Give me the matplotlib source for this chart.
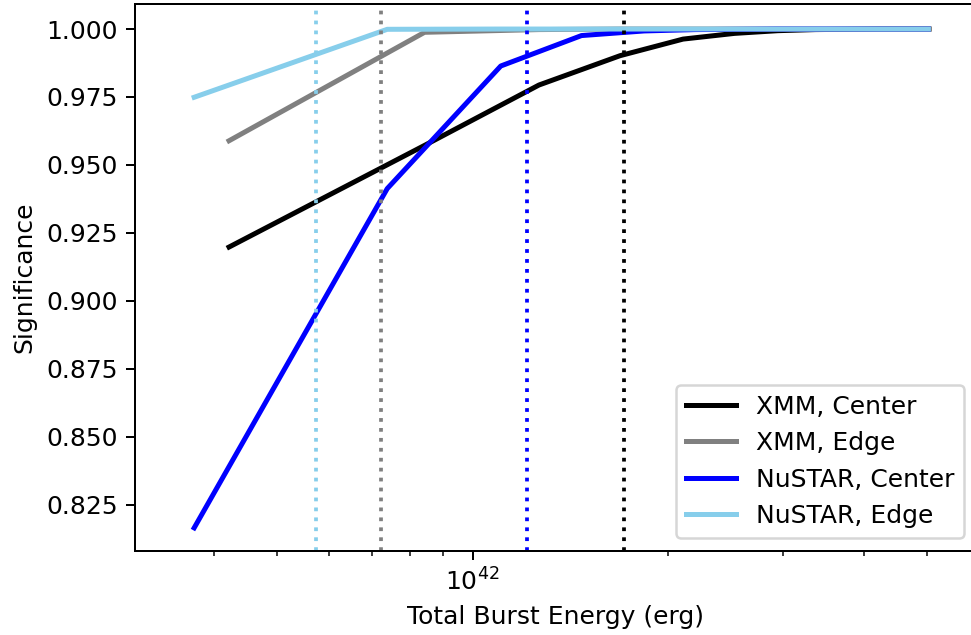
import numpy as np
import matplotlib as mpl
mpl.use('Agg')
import matplotlib.pyplot as plt

# burst energies (erg) sampled for each instrument
xmm_energy = [4.215e41, 8.43e41, 1.2645e42, 1.686e42, 2.1075e42, 2.529e42,
              2.9505e42, 3.372e42, 3.7935e42, 4.215e42, 4.6365e42, 5.04e42]
nustar_energy = [3.725e41, 7.385e41, 1.1045e42, 1.4705e42, 1.8365e42, 2.2025e42,
                 2.5685e42, 2.9345e42, 3.3005e42, 3.6665e42, 4.0325e42, 4.3985e42,
                 4.7645e42, 5.03e42]

# significance curves
xmm_center = [0.9198, 0.9572, 0.9794, 0.9902, 0.9963, 0.9984,
              0.9994, 0.9998, 0.9999, 1.0, 1.0, 1.0]
xmm_edge = [0.9589, 0.9988, 0.9998, 1.0, 1.0, 1.0,
            1.0, 1.0, 1.0, 1.0, 1.0, 1.0]
nustar_center = [0.8165, 0.9413, 0.9864, 0.9976, 0.9993, 0.9998, 0.9999,
                 1.0, 1.0, 1.0, 1.0, 1.0, 1.0, 1.0]
nustar_edge = [0.9749, 0.9999, 1.0, 1.0, 1.0, 1.0, 1.0,
               1.0, 1.0, 1.0, 1.0, 1.0, 1.0, 1.0]

# energies where each curve reaches 0.99
thresholds = {'XMM, Center': 1.709e42, 'XMM, Edge': 7.225e41,
              'NuSTAR, Center': 1.213e42, 'NuSTAR, Edge': 5.728e41}

colors = {'XMM, Center': 'black', 'XMM, Edge': 'gray',
          'NuSTAR, Center': 'blue', 'NuSTAR, Edge': 'skyblue'}

fig = plt.figure(figsize=(971 / 180, 635 / 180), dpi=180)
ax = fig.add_axes([135 / 971, 84.3 / 635, 841.5 / 971, 546.4 / 635])

ax.plot(xmm_energy, xmm_center, color=colors['XMM, Center'], lw=2, label='XMM, Center')
ax.plot(xmm_energy, xmm_edge, color=colors['XMM, Edge'], lw=2, label='XMM, Edge')
ax.plot(nustar_energy, nustar_center, color=colors['NuSTAR, Center'], lw=2, label='NuSTAR, Center')
ax.plot(nustar_energy, nustar_edge, color=colors['NuSTAR, Edge'], lw=2, label='NuSTAR, Edge')

for name, e in thresholds.items():
    ax.axvline(e, color=colors[name], ls=':', lw=1.5)

ax.set_xscale('log')
ax.set_xlim(3.02e41, 5.965e42)
ax.set_ylim(0.8081, 1.0091)
ax.set_xlabel('Total Burst Energy (erg)')
ax.set_ylabel('Significance')
ax.legend(loc='lower right')

fig.savefig('out.png', dpi=180)
